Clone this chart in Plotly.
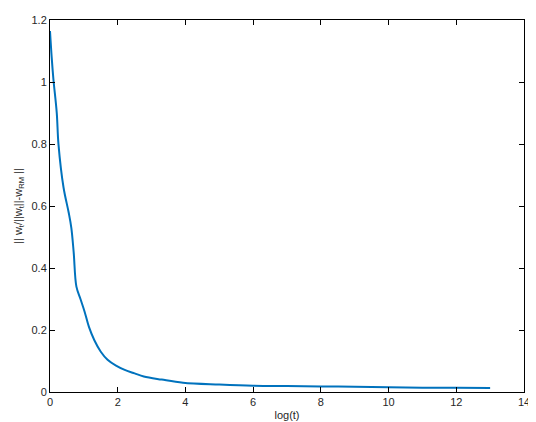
import plotly.graph_objects as go

log_t = [0, 0.05, 0.1, 0.2, 0.25, 0.4, 0.55, 0.63, 0.7, 0.78, 0.9, 1.02, 1.15, 1.31, 1.5, 1.7, 1.95, 2.19, 2.5, 2.77, 3.3, 3.93, 5, 6, 7, 8, 9, 10, 11, 12, 13]
err = [1.165, 1.08, 1.01, 0.9, 0.8, 0.66, 0.58, 0.53, 0.45, 0.34, 0.3, 0.26, 0.21, 0.167, 0.13, 0.104, 0.085, 0.072, 0.06, 0.05, 0.04, 0.03, 0.024, 0.02, 0.019, 0.018, 0.017, 0.015, 0.014, 0.0135, 0.013]
y_ticks = [0, 0.2, 0.4, 0.6, 0.8, 1, 1.2]
y_labels = ['0', '0.2', '0.4', '0.6', '0.8', '1', '1.2']

fig = go.Figure(go.Scatter(x=log_t, y=err, mode='lines',
                           line=dict(color='#0072BD', width=2, shape='spline')))

font = dict(size=11, family='Liberation Sans', color='#262626')
axis = dict(showgrid=False, zeroline=False, showline=True, mirror='ticks',
            linecolor='black', linewidth=1, ticks='inside', ticklen=5,
            tickcolor='black', tickfont=font)
fig.update_layout(
    width=536, height=422, plot_bgcolor='white', paper_bgcolor='white',
    margin=dict(l=42, r=20, t=6, b=38), showlegend=False,
    xaxis=dict(axis, range=[0, 14], dtick=2,
               title=dict(text='log(t)', standoff=4, font=font)),
    yaxis=dict(axis, range=[0, 1.2005], tickvals=y_ticks, ticktext=y_labels,
               title=dict(text='|| w<sub>t</sub>/||w<sub>t</sub>||-w<sub>RM</sub> ||',
                          standoff=6, font=font)),
)
fig.write_html("out.html")
